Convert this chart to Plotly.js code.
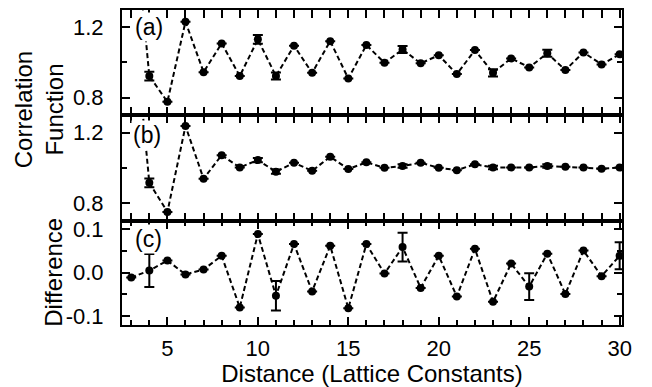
<!DOCTYPE html>
<html>
<head>
<meta charset="utf-8">
<script src="https://cdn.plot.ly/plotly-3.0.1.min.js"></script>
<style>html,body{margin:0;padding:0;background:#fff;}#chart{width:652px;height:387px;}</style>
</head>
<body>
<div id="chart"></div>
<script>
// Panel (a)
const xA = [3,4,5,6,7,8,9,10,11,12,13,14,15,16,17,18,19,20,21,22,23,24,25,26,27,28,29,30];
const corrA = [2.0,0.922,0.776,1.23,0.944,1.107,0.922,1.130,0.922,1.094,0.940,1.12,0.908,1.098,0.997,1.073,0.994,1.04,0.933,1.069,0.940,1.022,0.971,1.051,0.956,1.056,0.988,1.045];
const errA = [null,0.025,null,null,null,null,null,0.025,0.02,null,null,null,null,null,null,0.02,null,null,null,null,0.02,null,null,0.02,null,null,null,null];
// Panel (b)
const xB = [3,4,5,6,7,8,9,10,11,12,13,14,15,16,17,18,19,20,21,22,23,24,25,26,27,28,29,30];
const corrB = [2.0,0.915,0.75,1.237,0.938,1.072,1.002,1.044,0.978,1.029,0.983,1.063,0.993,1.031,1.0,1.01,1.029,1.0,0.987,1.02,1.002,1.002,1.002,1.01,1.006,1.002,0.995,1.002];
const errB = [null,0.025,null,null,null,null,null,0.012,0.012,null,null,null,null,null,null,0.01,null,null,null,null,0.01,null,null,0.01,null,null,null,null];
// Panel (c)
const xC = [3,4,5,6,7,8,9,10,11,12,13,14,15,16,17,18,19,20,21,22,23,24,25,26,27,28,29,30];
const diffC = [-0.011,0.005,0.028,-0.004,0.0075,0.039,-0.080,0.089,-0.053,0.066,-0.043,0.062,-0.082,0.066,-0.002,0.059,-0.035,0.039,-0.055,0.055,-0.067,0.021,-0.032,0.044,-0.049,0.051,-0.008,0.039];
const errC = [null,0.038,null,null,null,null,null,null,0.034,null,null,null,null,null,null,0.033,null,null,null,null,null,null,0.031,null,null,null,null,0.031];
// Tick labels
const corrTickVals = [0.8, 1.2];
const corrTickText = ['0.8', '1.2'];
const diffTickVals = [-0.1, 0.0, 0.1];
const diffTickText = ['-0.1', '0.0', '0.1'];
const xTickVals = [5, 10, 15, 20, 25, 30];
const xTickText = ['5', '10', '15', '20', '25', '30'];
const panelLabels = ['(a)', '(b)', '(c)'];

const FONT = 'Liberation Sans, Arial, Helvetica, sans-serif';

function tr(x, y, err, yaxis) {
  return {
    x: x, y: y, xaxis: 'x', yaxis: yaxis,
    type: 'scatter', mode: 'lines+markers',
    line: {color: '#000', width: 2, dash: '5px,3px'},
    marker: {color: '#000', size: 8},
    error_y: {type: 'data', array: err, visible: true, color: '#000', thickness: 2, width: 5},
    showlegend: false, hoverinfo: 'skip'
  };
}

const data = [tr(xA, corrA, errA, 'y'), tr(xB, corrB, errB, 'y2'), tr(xC, diffC, errC, 'y3')];

const yCommon = {
  showline: true, linecolor: '#000', linewidth: 2, mirror: 'allticks',
  ticks: 'inside', ticklen: 8, tickwidth: 2, tickcolor: '#000',
  showgrid: false, zeroline: false, anchor: 'x',
  ticklabelstandoff: 12,
  tickfont: {family: FONT, size: 22, color: '#000'},
  fixedrange: true
};

const layout = {
  width: 652, height: 387,
  margin: {l: 122, r: 30, t: 10, b: 62},
  paper_bgcolor: '#fff', plot_bgcolor: '#fff',
  font: {family: FONT, color: '#000'},
  xaxis: {
    range: [2.49, 30.13], anchor: 'y3',
    tickmode: 'array', tickvals: xTickVals, ticktext: xTickText,
    showline: true, linecolor: '#000', linewidth: 2, mirror: 'allticks',
    ticks: 'inside', ticklen: 8, tickwidth: 2, tickcolor: '#000',
    minor: {dtick: 1, tick0: 0, ticks: 'inside', ticklen: 5, tickwidth: 2, tickcolor: '#000'},
    showgrid: false, zeroline: false,
    ticklabelstandoff: 3,
    tickfont: {family: FONT, size: 22, color: '#000'},
    title: {text: 'Distance (Lattice Constants)', font: {family: FONT, size: 24, color: '#000'}, standoff: 0}
  },
  yaxis: Object.assign({}, yCommon, {
    domain: [0.668, 1], range: [0.7035, 1.2965],
    tickmode: 'array', tickvals: corrTickVals, ticktext: corrTickText,
    minor: {tickvals: [1.0], ticks: 'inside', ticklen: 5, tickwidth: 2, tickcolor: '#000'}
  }),
  yaxis2: Object.assign({}, yCommon, {
    domain: [0.331, 0.668], range: [0.70, 1.302],
    tickmode: 'array', tickvals: corrTickVals, ticktext: corrTickText,
    minor: {tickvals: [1.0], ticks: 'inside', ticklen: 5, tickwidth: 2, tickcolor: '#000'}
  }),
  yaxis3: Object.assign({}, yCommon, {
    domain: [0, 0.331], range: [-0.1205, 0.1198],
    tickmode: 'array', tickvals: diffTickVals, ticktext: diffTickText,
    minor: {tickvals: [-0.05, 0.05], ticks: 'inside', ticklen: 5, tickwidth: 2, tickcolor: '#000'}
  }),
  annotations: [
    {text: panelLabels[0], xref: 'paper', yref: 'paper', x: 0.0534, y: 0.946, xanchor: 'center', yanchor: 'middle', showarrow: false, bgcolor: '#fff', font: {family: FONT, size: 23, color: '#000'}},
    {text: panelLabels[1], xref: 'paper', yref: 'paper', x: 0.0504, y: 0.603, xanchor: 'center', yanchor: 'middle', showarrow: false, bgcolor: '#fff', font: {family: FONT, size: 23, color: '#000'}},
    {text: panelLabels[2], xref: 'paper', yref: 'paper', x: 0.0524, y: 0.2746, xanchor: 'center', yanchor: 'middle', showarrow: false, bgcolor: '#fff', font: {family: FONT, size: 23, color: '#000'}},
    {text: 'Correlation<br>Function', xref: 'paper', yref: 'paper', x: -0.1656, y: 0.6825, xanchor: 'center', yanchor: 'middle', textangle: -90, showarrow: false, font: {family: FONT, size: 24, color: '#000'}},
    {text: 'Difference', xref: 'paper', yref: 'paper', x: -0.1386, y: 0.168, xanchor: 'center', yanchor: 'middle', textangle: -90, showarrow: false, font: {family: FONT, size: 24, color: '#000'}}
  ]
};

Plotly.newPlot('chart', data, layout, {staticPlot: true, displayModeBar: false});
</script>
</body>
</html>
